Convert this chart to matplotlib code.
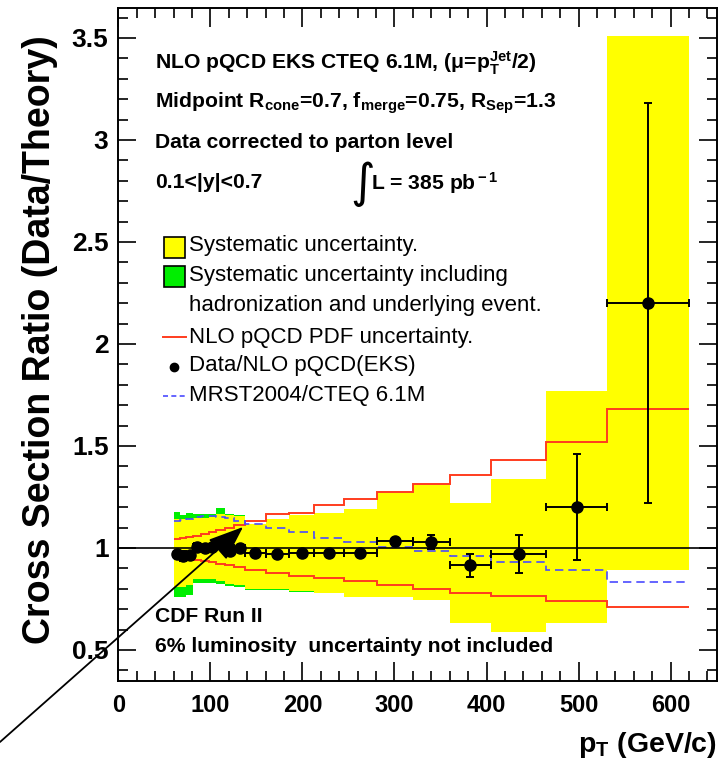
import numpy as np
import matplotlib
matplotlib.use("Agg")
import matplotlib.pyplot as plt
from matplotlib.patches import Rectangle
from matplotlib.lines import Line2D

# ---------------- data ----------------
edges = [61, 67, 74, 81, 90, 98, 106, 116, 126, 138, 160, 185, 213, 245, 281, 320, 360, 405, 465, 531, 620]
pt = [64, 70.5, 77.5, 85.5, 94, 102, 111, 121, 132, 149, 172.5, 199, 229, 263, 300.5, 340, 382.5, 435, 498, 575.5]
ratio = [0.97, 0.96, 0.965, 1.005, 1.0, 1.005, 1.025, 0.985, 1.0, 0.977, 0.97, 0.975, 0.975, 0.973, 1.035, 1.03, 0.915, 0.97, 1.2, 2.2]
stat_err = [0.01, 0.025, 0.015, 0.02, 0.01, 0.01, 0.01, 0.01, 0.008, 0.008, 0.008, 0.008, 0.008, 0.008, 0.012, 0.035, 0.055, 0.095, 0.26, 0.98]

sys_hi = [1.14, 1.14, 1.14, 1.145, 1.145, 1.15, 1.165, 1.16, 1.155, 1.12, 1.14, 1.16, 1.17, 1.19, 1.27, 1.31, 1.22, 1.34, 1.77, 3.51]
sys_lo = [0.81, 0.81, 0.82, 0.85, 0.85, 0.85, 0.84, 0.825, 0.82, 0.80, 0.80, 0.79, 0.78, 0.76, 0.76, 0.745, 0.63, 0.59, 0.63, 0.89]
had_hi = [1.178, 1.16, 1.17, 1.167, 1.167, 1.165, 1.195, 1.165, 1.16, 1.12, 1.14, 1.16, 1.17, 1.19, 1.27, 1.31, 1.22, 1.34, 1.77, 3.51]
had_lo = [0.76, 0.76, 0.77, 0.83, 0.83, 0.83, 0.825, 0.815, 0.81, 0.795, 0.795, 0.785, 0.78, 0.76, 0.76, 0.745, 0.63, 0.59, 0.63, 0.89]

pdf_hi = [1.045, 1.05, 1.055, 1.06, 1.07, 1.08, 1.09, 1.10, 1.115, 1.13, 1.165, 1.17, 1.21, 1.24, 1.275, 1.315, 1.36, 1.43, 1.52, 1.68]
pdf_lo = [0.96, 0.955, 0.95, 0.94, 0.935, 0.93, 0.92, 0.915, 0.905, 0.89, 0.875, 0.865, 0.855, 0.84, 0.82, 0.80, 0.78, 0.765, 0.74, 0.71]
mrst = [1.13, 1.135, 1.14, 1.15, 1.155, 1.155, 1.15, 1.145, 1.13, 1.12, 1.10, 1.08, 1.05, 1.03, 1.006, 0.985, 0.96, 0.93, 0.89, 0.835]

xticks = [0, 100, 200, 300, 400, 500, 600]
yticks = [0.5, 1.0, 1.5, 2.0, 2.5, 3.0, 3.5]
ytick_labels = ["0.5", "1", "1.5", "2", "2.5", "3", "3.5"]

# ---------------- style ----------------
FONT = "Liberation Sans"
plt.rcParams["font.family"] = [FONT, "DejaVu Sans"]
plt.rcParams["mathtext.fontset"] = "custom"
plt.rcParams["mathtext.rm"] = FONT + ":bold"
plt.rcParams["mathtext.bf"] = FONT + ":bold"
plt.rcParams["mathtext.it"] = FONT + ":bold"

W, H = 721, 769
fig = plt.figure(figsize=(W / 100, H / 100), dpi=100)
L, R, T, B = 118.3, 716.7, 8, 681
ax = fig.add_axes([L / W, 1 - B / H, (R - L) / W, (B - T) / H])

def fx(px):
    return px / W

def fy(py):
    return 1 - py / H

YELLOW = "#ffff00"
GREEN = "#00ee00"
RED = "#ff3c1e"
BLUE = "#4a4aff"

edges_a = np.array(edges, dtype=float)
ax.stairs(had_hi, edges_a, baseline=had_lo, fill=True, color=GREEN, lw=0, zorder=1)
ax.stairs(sys_hi, edges_a, baseline=sys_lo, fill=True, color=YELLOW, lw=0, zorder=2)
ax.stairs(pdf_hi, edges_a, baseline=None, color=RED, lw=1.4, zorder=3)
ax.stairs(pdf_lo, edges_a, baseline=None, color=RED, lw=1.4, zorder=3)
ax.stairs(mrst, edges_a, baseline=None, color=BLUE, lw=1.2, ls=(0, (5, 3)), zorder=3)
ax.axhline(1.0, color="black", lw=1.2, zorder=4)

pt_a = np.array(pt)
xerr = np.vstack([pt_a - edges_a[:-1], edges_a[1:] - pt_a])
ax.errorbar(pt, ratio, yerr=stat_err, xerr=xerr, fmt="o", color="black", ms=8,
            elinewidth=1.4, capsize=3, capthick=1.4, zorder=5)

ax.set_xlim(0, 650)
ax.set_ylim(0.348, 3.647)
ax.set_xticks(xticks)
ax.set_xticklabels([str(v) for v in xticks])
ax.set_yticks(yticks)
ax.set_yticklabels(ytick_labels)
ax.set_xticks(np.arange(0, 651, 20), minor=True)
ax.set_yticks(np.arange(0.4, 3.65, 0.1), minor=True)
ax.tick_params(which="major", direction="in", length=14, width=1.2, top=True, right=True,
               labelsize=17, pad=9)
ax.tick_params(which="minor", direction="in", length=7, width=1.2, top=True, right=True)
ax.tick_params(axis="y", which="major", length=13, pad=7, labelsize=19)
for lab in ax.get_xticklabels() + ax.get_yticklabels():
    lab.set_fontweight("bold")
for s in ax.spines.values():
    s.set_linewidth(1.4)

ax.set_ylabel("Cross Section Ratio (Data/Theory)", fontsize=27, fontweight="bold")
ax.yaxis.set_label_coords((58 - L) / (R - L), (B - 340) / (B - T))
ax.set_xlabel(r"p$_{\rm T}$ (GeV/c)", fontsize=20.5, fontweight="bold", ha="right", va="center")
ax.xaxis.set_label_coords(1.0, (B - 745) / (B - T))

# ---------------- annotation texts ----------------
tk = dict(transform=fig.transFigure, fontsize=15.2, fontweight="bold", va="center", ha="left")
fig.text(fx(155), fy(63), r"NLO pQCD EKS CTEQ 6.1M, (μ=p$_{\rm T}^{\rm Jet}$/2)", **tk)
fig.text(fx(155), fy(103), r"Midpoint R$_{\rm cone}$=0.7, f$_{\rm merge}$=0.75, R$_{\rm Sep}$=1.3", **tk)
fig.text(fx(155), fy(143), "Data corrected to parton level", **tk)
fig.text(fx(155), fy(183), "0.1<|y|<0.7", **tk)
fig.text(fx(350), fy(184), "∫", transform=fig.transFigure, fontsize=34, va="center", ha="left",
         family="DejaVu Sans")
fig.text(fx(371), fy(183), r"L = 385 pb$^{\rm -1}$", **tk)
fig.text(fx(155), fy(617), "CDF Run II", **tk)
fig.text(fx(155), fy(647), "6% luminosity  uncertainty not included", **tk)

# ---------------- legend (manual) ----------------
lt = dict(transform=fig.transFigure, fontsize=16, va="center", ha="left")
tx = 189
fig.patches.append(Rectangle((fx(164), fy(258)), 21 / W, 21 / H, transform=fig.transFigure,
                             facecolor=YELLOW, edgecolor="black", lw=1.2))
fig.text(fx(tx), fy(246), "Systematic uncertainty.", **lt)
fig.patches.append(Rectangle((fx(164), fy(287)), 21 / W, 21 / H, transform=fig.transFigure,
                             facecolor=GREEN, edgecolor="black", lw=1.2))
fig.text(fx(tx), fy(276), "Systematic uncertainty including", **lt)
fig.text(fx(tx), fy(306), "hadronization and underlying event.", **lt)
fig.lines.append(Line2D([fx(163), fx(186)], [fy(337), fy(337)], transform=fig.transFigure,
                        color=RED, lw=1.4))
fig.text(fx(tx), fy(337), "NLO pQCD PDF uncertainty.", **lt)
fig.lines.append(Line2D([fx(174)], [fy(367)], transform=fig.transFigure, marker="o",
                        color="black", ms=6))
fig.text(fx(tx), fy(366), "Data/NLO pQCD(EKS)", **lt)
fig.lines.append(Line2D([fx(163), fx(186)], [fy(396), fy(396)], transform=fig.transFigure,
                        color=BLUE, lw=1.2, ls=(0, (3, 2))))
fig.text(fx(tx), fy(395), "MRST2004/CTEQ 6.1M", **lt)

# ---------------- arrow ----------------
ax.annotate("", xy=(135.5, 1.103), xycoords="data",
            xytext=(fx(0), fy(742)), textcoords="figure fraction",
            arrowprops=dict(arrowstyle="-|>,head_length=2.2,head_width=0.85", color="black",
                            lw=1.3, shrinkA=0, shrinkB=0),
            annotation_clip=False, zorder=6)

fig.savefig("out.png", dpi=100)
